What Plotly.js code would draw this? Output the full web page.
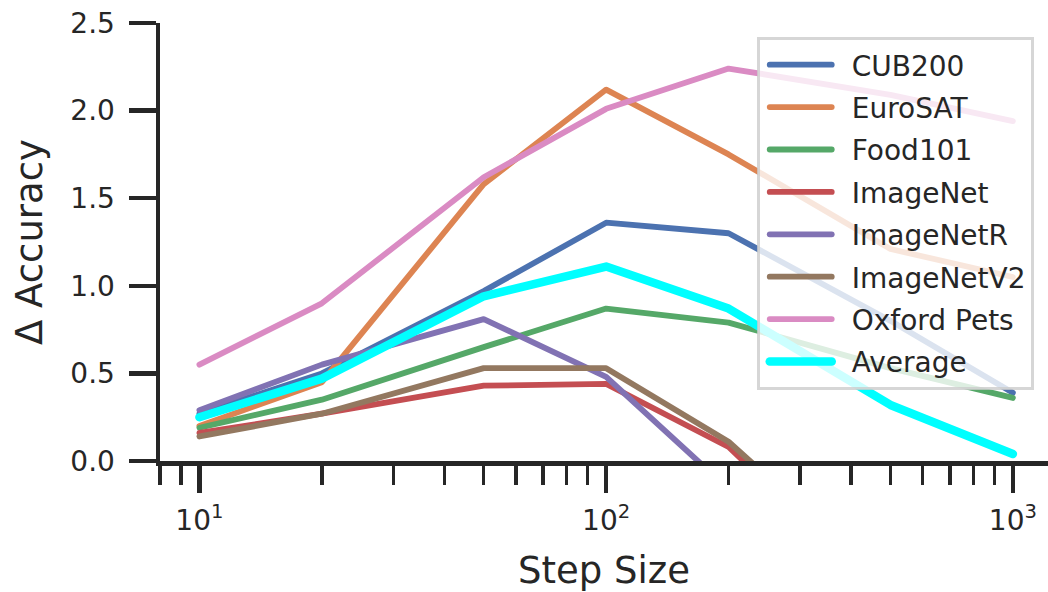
<!DOCTYPE html>
<html>
<head>
<meta charset="utf-8">
<script src="https://cdn.plot.ly/plotly-3.0.1.min.js"></script>
<style>
html, body { margin: 0; padding: 0; background: #fff; }
#chart { width: 1048px; height: 592px; }
.scatterlayer path.js-line, .legend path.js-line { stroke-linecap: round; stroke-linejoin: round; }
</style>
</head>
<body>
<div id="chart"></div>
<script>
// Data
const stepSizes = [10, 20, 50, 100, 200, 500, 1000];
const seriesNames = ["CUB200", "EuroSAT", "Food101", "ImageNet", "ImageNetR", "ImageNetV2", "Oxford Pets", "Average"];
const cub200 = [0.27, 0.50, 0.97, 1.36, 1.30, 0.80, 0.39];
const euroSAT = [0.20, 0.45, 1.58, 2.12, 1.75, 1.21, 1.05];
const food101 = [0.19, 0.35, 0.65, 0.87, 0.79, 0.53, 0.36];
const imageNet = [0.16, 0.27, 0.43, 0.44, 0.08, -0.80, -1.10];
const imageNetR = [0.29, 0.55, 0.81, 0.48, -0.16, -0.88, -1.33];
const imageNetV2 = [0.14, 0.27, 0.53, 0.53, 0.11, -0.72, -1.00];
const oxfordPets = [0.55, 0.90, 1.62, 2.01, 2.24, 2.09, 1.94];
const average = [0.25, 0.47, 0.94, 1.11, 0.87, 0.32, 0.04];
const xTickVals = [10, 100, 1000];
const xTickText = ["10<sup>1</sup>", "10<sup>2</sup>", "10<sup>3</sup>"];
const xMinorTickVals = [8, 9, 20, 30, 40, 50, 60, 70, 80, 90, 200, 300, 400, 500, 600, 700, 800, 900];
const yTickVals = [0, 0.5, 1.0, 1.5, 2.0, 2.5];

const allSeries = [cub200, euroSAT, food101, imageNet, imageNetR, imageNetV2, oxfordPets, average];
const colors = ["#4C72B0", "#DD8452", "#55A868", "#C44E52", "#8172B3", "#937860", "#DA8BC3", "#00FFFF"];
const widths = [5.8, 5.8, 5.8, 5.8, 5.8, 5.8, 5.8, 8.5];

const traces = allSeries.map((ys, i) => ({
  x: stepSizes,
  y: ys,
  name: seriesNames[i],
  legendgroup: "g" + i,
  type: "scatter",
  mode: "lines",
  line: { color: colors[i], width: widths[i] },
  hoverinfo: "x+y+name"
}));

const ink = "#262626";
const layout = {
  width: 1048,
  height: 592,
  margin: { l: 160, r: 0, t: 23, b: 131 },
  paper_bgcolor: "#ffffff",
  plot_bgcolor: "#ffffff",
  font: { family: "DejaVu Sans, sans-serif", color: ink, size: 28 },
  showlegend: true,
  legend: {
    x: 0.672, y: 0.968, xanchor: "left", yanchor: "top",
    bgcolor: "rgba(255,255,255,0.8)",
    bordercolor: "rgba(204,204,204,0.8)",
    borderwidth: 3,
    font: { family: "DejaVu Sans, sans-serif", size: 28, color: ink },
    itemwidth: 82,
    tracegroupgap: 3,
    traceorder: "grouped"
  },
  xaxis: {
    type: "log",
    range: [Math.log10(8), Math.log10(1220)],
    showgrid: false,
    zeroline: false,
    showline: true,
    linecolor: ink,
    linewidth: 4.5,
    ticks: "outside",
    ticklen: 27,
    tickwidth: 4.5,
    tickcolor: ink,
    tickmode: "array",
    tickvals: xTickVals,
    ticktext: xTickText,
    tickfont: { size: 28, color: ink },
    ticklabelstandoff: 4,
    minor: {
      ticks: "outside",
      ticklen: 19,
      tickwidth: 3.5,
      tickcolor: ink,
      tickmode: "array",
      tickvals: xMinorTickVals,
      showgrid: false
    },
    title: { text: "Step Size", font: { size: 37, color: ink }, standoff: 31 }
  },
  yaxis: {
    range: [0, 2.5],
    showgrid: false,
    zeroline: false,
    showline: true,
    linecolor: ink,
    linewidth: 4.5,
    ticks: "outside",
    ticklen: 27,
    tickwidth: 4.5,
    tickcolor: ink,
    tickmode: "array",
    tickvals: yTickVals,
    tickformat: ".1f",
    tickfont: { size: 28, color: ink },
    ticklabelstandoff: 8,
    title: { text: "Δ Accuracy", font: { size: 37, color: ink }, standoff: 18 }
  }
};

Plotly.newPlot("chart", traces, layout, { displayModeBar: false, staticPlot: true }).then(() => {
  document.querySelectorAll(".legend .legendlines path").forEach(p => p.setAttribute("d", "M10,0h62"));
});
</script>
</body>
</html>
